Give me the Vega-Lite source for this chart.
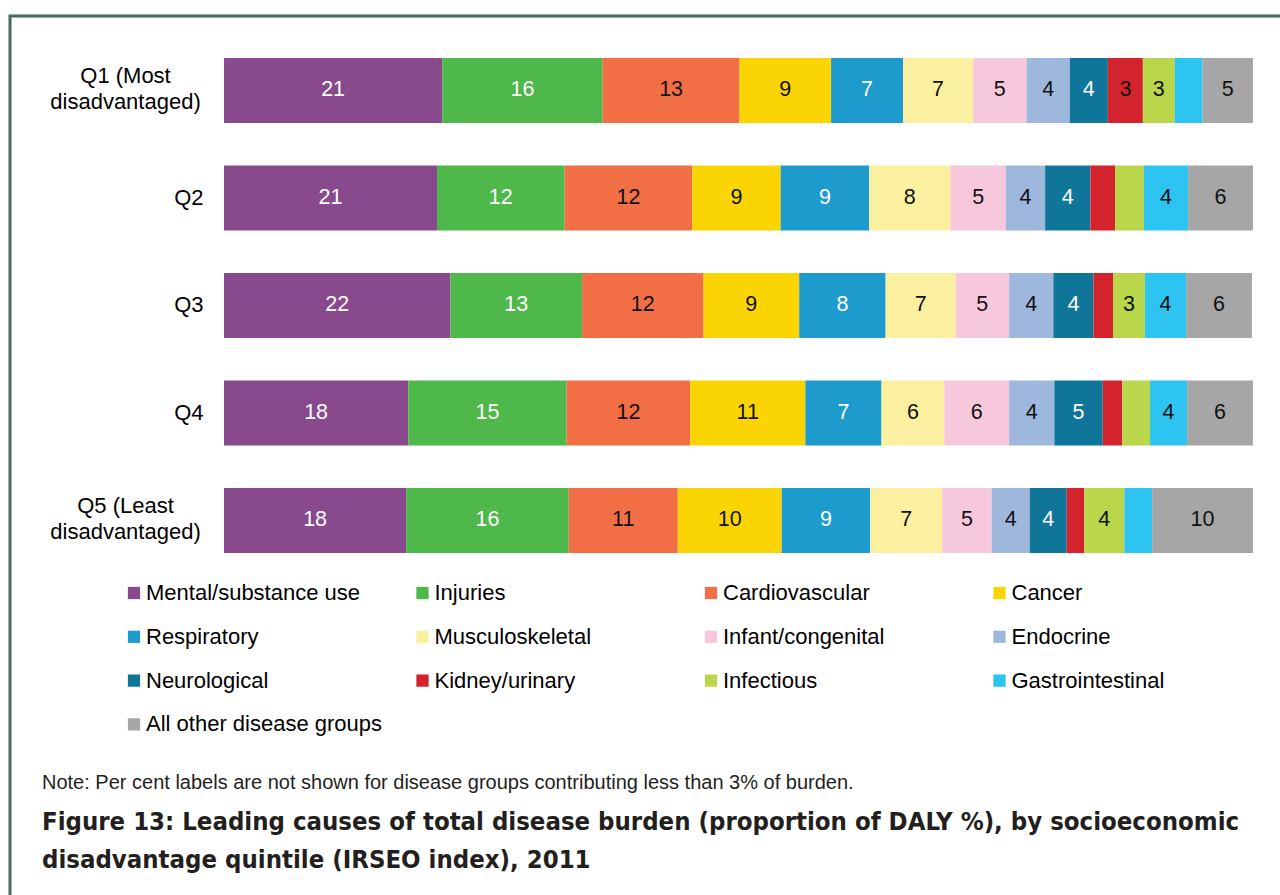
{
  "$schema": "https://vega.github.io/schema/vega-lite/v6.json",
  "width": 1280,
  "height": 889,
  "autosize": {"type": "none"},
  "padding": {"left": 10, "top": 16, "right": -10, "bottom": -10},
  "background": "white",
  "config": {
    "view": {"stroke": "#476b5e", "strokeWidth": 3, "fill": "white"}
  },
  "title": {
    "text": "Note: Per cent labels are not shown for disease groups contributing less than 3% of burden.",
    "subtitle": ["Figure 13: Leading causes of total disease burden (proportion of DALY %), by socioeconomic", "disadvantage quintile (IRSEO index), 2011"],
    "orient": "bottom",
    "frame": "group",
    "anchor": "start",
    "offset": -132,
    "dx": 32,
    "font": "Liberation Sans",
    "fontSize": 20,
    "fontWeight": "normal",
    "color": "#231f20",
    "subtitleFont": "DejaVu Sans Condensed",
    "subtitleFontSize": 25.5,
    "subtitleFontWeight": "bold",
    "subtitleColor": "#231f20",
    "subtitleLineHeight": 38,
    "subtitlePadding": 17
  },
  "data": {
    "values": [
      {"quintile": "Q1 (Most disadvantaged)", "cause": "Mental/substance use", "order": 1, "value": 21.2},
      {"quintile": "Q1 (Most disadvantaged)", "cause": "Injuries", "order": 2, "value": 15.6},
      {"quintile": "Q1 (Most disadvantaged)", "cause": "Cardiovascular", "order": 3, "value": 13.3},
      {"quintile": "Q1 (Most disadvantaged)", "cause": "Cancer", "order": 4, "value": 8.9},
      {"quintile": "Q1 (Most disadvantaged)", "cause": "Respiratory", "order": 5, "value": 7.0},
      {"quintile": "Q1 (Most disadvantaged)", "cause": "Musculoskeletal", "order": 6, "value": 6.8},
      {"quintile": "Q1 (Most disadvantaged)", "cause": "Infant/congenital", "order": 7, "value": 5.2},
      {"quintile": "Q1 (Most disadvantaged)", "cause": "Endocrine", "order": 8, "value": 4.2},
      {"quintile": "Q1 (Most disadvantaged)", "cause": "Neurological", "order": 9, "value": 3.7},
      {"quintile": "Q1 (Most disadvantaged)", "cause": "Kidney/urinary", "order": 10, "value": 3.4},
      {"quintile": "Q1 (Most disadvantaged)", "cause": "Infectious", "order": 11, "value": 3.1},
      {"quintile": "Q1 (Most disadvantaged)", "cause": "Gastrointestinal", "order": 12, "value": 2.7},
      {"quintile": "Q1 (Most disadvantaged)", "cause": "All other disease groups", "order": 13, "value": 4.9},
      {"quintile": "Q2", "cause": "Mental/substance use", "order": 1, "value": 20.7},
      {"quintile": "Q2", "cause": "Injuries", "order": 2, "value": 12.4},
      {"quintile": "Q2", "cause": "Cardiovascular", "order": 3, "value": 12.4},
      {"quintile": "Q2", "cause": "Cancer", "order": 4, "value": 8.6},
      {"quintile": "Q2", "cause": "Respiratory", "order": 5, "value": 8.6},
      {"quintile": "Q2", "cause": "Musculoskeletal", "order": 6, "value": 7.9},
      {"quintile": "Q2", "cause": "Infant/congenital", "order": 7, "value": 5.4},
      {"quintile": "Q2", "cause": "Endocrine", "order": 8, "value": 3.8},
      {"quintile": "Q2", "cause": "Neurological", "order": 9, "value": 4.4},
      {"quintile": "Q2", "cause": "Kidney/urinary", "order": 10, "value": 2.4},
      {"quintile": "Q2", "cause": "Infectious", "order": 11, "value": 2.8},
      {"quintile": "Q2", "cause": "Gastrointestinal", "order": 12, "value": 4.3},
      {"quintile": "Q2", "cause": "All other disease groups", "order": 13, "value": 6.3},
      {"quintile": "Q3", "cause": "Mental/substance use", "order": 1, "value": 22.0},
      {"quintile": "Q3", "cause": "Injuries", "order": 2, "value": 12.8},
      {"quintile": "Q3", "cause": "Cardiovascular", "order": 3, "value": 11.8},
      {"quintile": "Q3", "cause": "Cancer", "order": 4, "value": 9.3},
      {"quintile": "Q3", "cause": "Respiratory", "order": 5, "value": 8.4},
      {"quintile": "Q3", "cause": "Musculoskeletal", "order": 6, "value": 6.8},
      {"quintile": "Q3", "cause": "Infant/congenital", "order": 7, "value": 5.2},
      {"quintile": "Q3", "cause": "Endocrine", "order": 8, "value": 4.3},
      {"quintile": "Q3", "cause": "Neurological", "order": 9, "value": 3.9},
      {"quintile": "Q3", "cause": "Kidney/urinary", "order": 10, "value": 1.9},
      {"quintile": "Q3", "cause": "Infectious", "order": 11, "value": 3.1},
      {"quintile": "Q3", "cause": "Gastrointestinal", "order": 12, "value": 4.0},
      {"quintile": "Q3", "cause": "All other disease groups", "order": 13, "value": 6.4},
      {"quintile": "Q4", "cause": "Mental/substance use", "order": 1, "value": 17.9},
      {"quintile": "Q4", "cause": "Injuries", "order": 2, "value": 15.4},
      {"quintile": "Q4", "cause": "Cardiovascular", "order": 3, "value": 12.0},
      {"quintile": "Q4", "cause": "Cancer", "order": 4, "value": 11.2},
      {"quintile": "Q4", "cause": "Respiratory", "order": 5, "value": 7.4},
      {"quintile": "Q4", "cause": "Musculoskeletal", "order": 6, "value": 6.1},
      {"quintile": "Q4", "cause": "Infant/congenital", "order": 7, "value": 6.3},
      {"quintile": "Q4", "cause": "Endocrine", "order": 8, "value": 4.4},
      {"quintile": "Q4", "cause": "Neurological", "order": 9, "value": 4.7},
      {"quintile": "Q4", "cause": "Kidney/urinary", "order": 10, "value": 1.9},
      {"quintile": "Q4", "cause": "Infectious", "order": 11, "value": 2.7},
      {"quintile": "Q4", "cause": "Gastrointestinal", "order": 12, "value": 3.6},
      {"quintile": "Q4", "cause": "All other disease groups", "order": 13, "value": 6.4},
      {"quintile": "Q5 (Least disadvantaged)", "cause": "Mental/substance use", "order": 1, "value": 17.7},
      {"quintile": "Q5 (Least disadvantaged)", "cause": "Injuries", "order": 2, "value": 15.8},
      {"quintile": "Q5 (Least disadvantaged)", "cause": "Cardiovascular", "order": 3, "value": 10.6},
      {"quintile": "Q5 (Least disadvantaged)", "cause": "Cancer", "order": 4, "value": 10.1},
      {"quintile": "Q5 (Least disadvantaged)", "cause": "Respiratory", "order": 5, "value": 8.6},
      {"quintile": "Q5 (Least disadvantaged)", "cause": "Musculoskeletal", "order": 6, "value": 7.0},
      {"quintile": "Q5 (Least disadvantaged)", "cause": "Infant/congenital", "order": 7, "value": 4.8},
      {"quintile": "Q5 (Least disadvantaged)", "cause": "Endocrine", "order": 8, "value": 3.7},
      {"quintile": "Q5 (Least disadvantaged)", "cause": "Neurological", "order": 9, "value": 3.6},
      {"quintile": "Q5 (Least disadvantaged)", "cause": "Kidney/urinary", "order": 10, "value": 1.7},
      {"quintile": "Q5 (Least disadvantaged)", "cause": "Infectious", "order": 11, "value": 3.9},
      {"quintile": "Q5 (Least disadvantaged)", "cause": "Gastrointestinal", "order": 12, "value": 2.7},
      {"quintile": "Q5 (Least disadvantaged)", "cause": "All other disease groups", "order": 13, "value": 9.8}
    ]
  },
  "transform": [
    {"stack": "value", "groupby": ["quintile"], "sort": [{"field": "order", "order": "ascending"}], "as": ["x0", "x1"]}
  ],
  "encoding": {
    "y": {
      "field": "quintile",
      "type": "nominal",
      "scale": {
        "domain": ["Q1 (Most disadvantaged)", "Q2", "Q3", "Q4", "Q5 (Least disadvantaged)", " ", "  ", "   "],
        "paddingInner": 0.395,
        "paddingOuter": 0.3326,
        "align": 0.587
      },
      "axis": {
        "orient": "left",
        "offset": -214,
        "title": null,
        "ticks": false,
        "domain": false,
        "labelFont": "Liberation Sans",
        "labelFontSize": 22,
        "labelColor": "#000000",
        "labelLineHeight": 26,
        "labelLimit": 400,
        "labelExpr": "split(replace(datum.label, ' disadvantaged', '|disadvantaged'), '|')",
        "labelAlign": {"condition": {"test": "indexof(datum.value, 'disadvantaged') >= 0", "value": "center"}, "value": "right"},
        "labelPadding": {"condition": {"test": "indexof(datum.value, 'disadvantaged') >= 0", "value": 99}, "value": 21},
        "labelOffset": {"condition": {"test": "indexof(datum.value, 'disadvantaged') >= 0", "value": -14}, "value": 0}
      }
    }
  },
  "layer": [
    {
      "mark": {"type": "bar"},
      "encoding": {
        "x": {"field": "x0", "type": "quantitative", "scale": {"domain": [-20.8, 103.6], "nice": false, "zero": false}, "axis": null},
        "x2": {"field": "x1"},
        "color": {
          "field": "cause",
          "type": "nominal",
          "scale": {
            "domain": ["Mental/substance use", "Injuries", "Cardiovascular", "Cancer", "Respiratory", "Musculoskeletal", "Infant/congenital", "Endocrine", "Neurological", "Kidney/urinary", "Infectious", "Gastrointestinal", "All other disease groups"],
            "range": ["#884a8d", "#4fb84b", "#f26e45", "#fbd503", "#1e9bcd", "#fbf0a0", "#f7c7dc", "#9db7dd", "#0f7699", "#d3232d", "#bad64a", "#2ec4f2", "#a6a6a6"]
          },
          "legend": {
            "orient": "none",
            "legendX": 113,
            "legendY": 566,
            "direction": "horizontal",
            "columns": 4,
            "title": null,
            "symbolType": "square",
            "symbolSize": 150,
            "symbolStrokeWidth": 0,
            "symbolOpacity": 1,
            "labelFont": "Liberation Sans",
            "labelFontSize": 22,
            "labelColor": "#000000",
            "labelOffset": 1,
            "labelLimit": 400,
            "rowPadding": 21.8,
            "columnPadding": 28.5,
            "gridAlign": "all",
            "padding": 0
          }
        }
      }
    },
    {
      "transform": [
        {"filter": "datum.value >= 3"},
        {"fold": ["x0", "x1"], "as": ["edge", "pos"]}
      ],
      "mark": {"type": "text", "font": "Liberation Sans", "fontSize": 21.5, "align": "center", "baseline": "middle"},
      "encoding": {
        "x": {"field": "pos", "aggregate": "mean", "type": "quantitative", "stack": null},
        "detail": {"field": "cause", "type": "nominal"},
        "text": {"field": "value", "type": "quantitative", "format": ".0f"},
        "color": {
          "condition": {"test": "indexof(['Mental/substance use', 'Injuries', 'Respiratory', 'Neurological'], datum.cause) >= 0", "value": "#ffffff"},
          "value": "#111111"
        }
      }
    }
  ]
}
